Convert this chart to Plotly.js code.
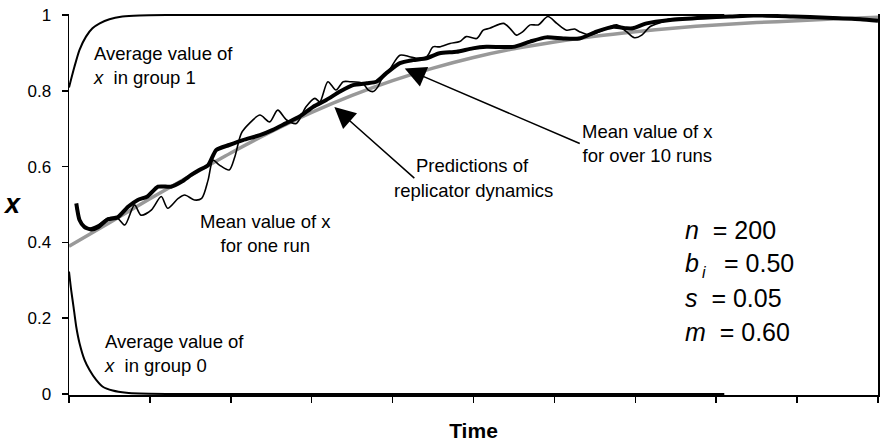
<!DOCTYPE html>
<html>
<head>
<meta charset="utf-8">
<script src="https://cdn.plot.ly/plotly-3.0.1.min.js"></script>
<style>html,body{margin:0;padding:0;background:#fff;}</style>
</head>
<body>
<div id="chart" style="width:890px;height:445px;"></div>
<script>
// ---- data ----
const xTicks = [0,100,200,300,400,500,600,700,800,900,1000];
const yTicks = [0,0.2,0.4,0.6,0.8,1];
const yTickText = ['0','0.2','0.4','0.6','0.8','1'];

// replicator dynamics prediction (grey)
const predT = [0,50,100,150,200,250,300,350,400,450,500,550,600,650,700,750,800,850,900,950,1000];
const predX = [0.39,0.452,0.515,0.576,0.636,0.692,0.743,0.788,0.827,0.860,0.888,0.911,0.929,0.944,0.956,0.966,0.974,0.980,0.985,0.990,0.994];

// average x in group 1
const g1T = [0,6.8,13,21,29,38,50,66,87,120,810];
const g1X = [0.809,0.864,0.908,0.943,0.965,0.978,0.989,0.996,0.999,1.0,1.0];

// average x in group 0
const g0T = [0,2.7,5.6,8.9,13,19.2,25.4,33.6,41.8,54,71,87,120,810];
const g0X = [0.323,0.274,0.230,0.178,0.134,0.090,0.063,0.037,0.019,0.009,0.003,0.001,0,0];

// mean value of x over 10 runs (thick)
const meanT = [9,13,19,27,36,48,60,73,85,97,110,126,139,151,161,172,182,198,215,236,252,268,285,302,318,335,351,368,380,392,409,425,442,458,479,499,516,549,570,590,611,631,652,673,689,697,714,743,784,817,846,895,937,978,1000];
const meanX = [0.503,0.459,0.441,0.434,0.44,0.461,0.466,0.494,0.512,0.521,0.547,0.547,0.560,0.578,0.591,0.604,0.644,0.657,0.670,0.683,0.697,0.714,0.732,0.758,0.776,0.798,0.815,0.820,0.824,0.846,0.873,0.881,0.886,0.899,0.903,0.912,0.916,0.916,0.930,0.941,0.938,0.938,0.956,0.969,0.965,0.965,0.978,0.987,0.993,0.996,0.999,0.996,0.993,0.989,0.985];

// mean value of x for one run (thin)
const runT = [9,16,23,36,48,60,69,81,89,102,114,122,135,143,155,164,172,178,186,198,205,213,223,236,248,258,269,281,293,304,310,320,330,339,347,363,370,376,382,386,396,409,421,429,442,450,458,471,483,491,504,512,520,537,545,553,561,570,580,592,603,615,625,631,644,660,677,689,699,708,718,734,741,780,820,860,900,940,980,1000];
const runX = [0.49,0.45,0.437,0.446,0.464,0.464,0.446,0.499,0.472,0.486,0.521,0.490,0.516,0.525,0.512,0.516,0.565,0.617,0.604,0.591,0.626,0.688,0.714,0.736,0.718,0.749,0.723,0.714,0.758,0.780,0.771,0.824,0.802,0.824,0.824,0.820,0.802,0.798,0.811,0.829,0.855,0.894,0.890,0.886,0.890,0.916,0.916,0.925,0.930,0.943,0.938,0.960,0.965,0.978,0.965,0.947,0.956,0.974,0.974,0.996,0.978,0.960,0.963,0.956,0.947,0.960,0.974,0.956,0.940,0.947,0.969,0.982,0.989,0.993,0.997,0.999,0.997,0.994,0.99,0.986];

// ---- traces ----
const traces = [
  {x: predT, y: predX, mode:'lines', line:{color:'#999999', width:3.5, shape:'spline', smoothing:0.8}, hoverinfo:'skip'},
  {x: g1T, y: g1X, mode:'lines', line:{color:'#000', width:2, shape:'spline', smoothing:0.6}, hoverinfo:'skip'},
  {x: g0T, y: g0X, mode:'lines', line:{color:'#000', width:2, shape:'spline', smoothing:0.6}, hoverinfo:'skip'},
  {x: meanT, y: meanX, mode:'lines', line:{color:'#000', width:4, shape:'spline', smoothing:0.6}, hoverinfo:'skip'},
  {x: runT, y: runX, mode:'lines', line:{color:'#000', width:1.6, shape:'spline', smoothing:0.8}, hoverinfo:'skip'}
];

const NB = '\u00a0';
const FAM = '"Liberation Sans", Arial, sans-serif';
const lbl = {family:FAM, size:18.5, color:'#000'};
const par = {family:FAM, size:25, color:'#000'};

const annotations = [
  // y-axis title (upright, as in the reference)
  {x:-0.0705, y:0.501, xref:'paper', yref:'paper', xanchor:'center', yanchor:'middle', showarrow:false,
   text:'<b><i>x</i></b>', font:{family:FAM, size:27, color:'#000'}},
  {x:27.8, y:0.868, xref:'x', yref:'y', xanchor:'left', yanchor:'middle', align:'left', showarrow:false,
   text:'Average value of<br><i>x</i>'+NB+NB+'in group 1', font:lbl},
  {x:40.2, y:0.108, xref:'x', yref:'y', xanchor:'left', yanchor:'middle', align:'left', showarrow:false,
   text:'Average value of<br><i>x</i>'+NB+NB+'in group 0', font:lbl},
  {x:243, y:0.424, xref:'x', yref:'y', xanchor:'center', yanchor:'middle', align:'center', showarrow:false,
   text:'Mean value of x<br>for one run', font:lbl},
  // "Predictions of" carries the arrow; tail at the text's lower-left corner
  {x:328, y:0.757, xref:'x', yref:'y', xanchor:'left', yanchor:'bottom', align:'center',
   text:'Predictions of', font:lbl,
   showarrow:true, arrowhead:2, arrowsize:2.8, arrowwidth:1.5, arrowcolor:'#000', ax:80, ay:71, standoff:0},
  {x:500.3, y:0.538, xref:'x', yref:'y', xanchor:'center', yanchor:'middle', align:'center', showarrow:false,
   text:'replicator dynamics', font:lbl},
  // "Mean value of x for over 10 runs" carries the arrow; tail at the text's left-middle
  {x:415, y:0.859, xref:'x', yref:'y', xanchor:'left', yanchor:'middle', align:'center',
   text:'Mean value of x<br>for over 10 runs', font:lbl,
   showarrow:true, arrowhead:2, arrowsize:2.8, arrowwidth:1.5, arrowcolor:'#000', ax:175, ay:75, standoff:0},
  // parameters
  {x:759, y:(394-230)/379, xref:'x', yref:'y', xanchor:'left', yanchor:'middle', showarrow:false, text:'<i>n</i>'+NB+NB+'= 200', font:par},
  {x:759, y:(394-263)/379, xref:'x', yref:'y', xanchor:'left', yanchor:'middle', showarrow:false, text:'<i>b</i>', font:par},
  {x:785.5, y:(394-273)/379, xref:'x', yref:'y', xanchor:'center', yanchor:'middle', showarrow:false, text:'<i>i</i>', font:{family:FAM, size:16, color:'#000'}, borderpad:0},
  {x:807, y:(394-263)/379, xref:'x', yref:'y', xanchor:'left', yanchor:'middle', showarrow:false, text:'= 0.50', font:par},
  {x:759, y:(394-298)/379, xref:'x', yref:'y', xanchor:'left', yanchor:'middle', showarrow:false, text:'<i>s</i>'+NB+NB+'= 0.05', font:par},
  {x:759, y:(394-332)/379, xref:'x', yref:'y', xanchor:'left', yanchor:'middle', showarrow:false, text:'<i>m</i>'+NB+NB+'= 0.60', font:par}
];

const layout = {
  width:890, height:445,
  margin:{l:69, r:12, t:14, b:50, pad:0},
  paper_bgcolor:'#fff', plot_bgcolor:'#fff',
  showlegend:false,
  font:{family:FAM, color:'#000', size:17},
  xaxis:{
    range:[0,1000], tickmode:'array', tickvals:xTicks, showticklabels:false,
    ticks:'outside', ticklen:6, tickwidth:1.5, tickcolor:'#000',
    showline:true, linecolor:'#000', linewidth:1.5, showgrid:false, zeroline:false,
    title:{text:'<b>Time</b>', font:{size:21, color:'#000'}, standoff:22}
  },
  yaxis:{
    range:[-0.0027,1.0027], tickmode:'array', tickvals:yTicks, ticktext:yTickText,
    ticks:'outside', ticklen:6, tickwidth:1.5, tickcolor:'#000', ticklabelstandoff:7,
    showline:true, mirror:true, linecolor:'#000', linewidth:1.5, showgrid:false, zeroline:false,
    tickfont:{size:17, color:'#000'}
  },
  annotations: annotations
};

Plotly.newPlot('chart', traces, layout, {staticPlot:true, displayModeBar:false});
</script>
</body>
</html>
